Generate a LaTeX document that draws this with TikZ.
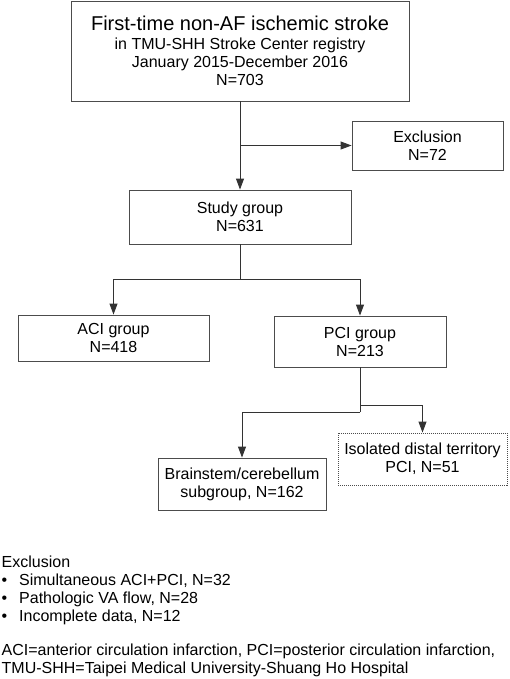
\documentclass[tikz,border=0pt]{standalone}
\usepackage{fontspec}
\setmainfont{Liberation Sans}
\usetikzlibrary{arrows.meta}
\tikzset{
  box/.style={draw=black!70, line width=0.9pt, align=center, inner sep=0pt,
    font=\fontsize{16}{18}\selectfont},
  arr/.style={draw=black!80, line width=0.9pt, -{Triangle[length=11pt,width=8pt]}},
  ln/.style={draw=black!80, line width=0.9pt},
  note/.style={anchor=base west, inner sep=0pt, font=\fontsize{16}{18}\selectfont}
}
\begin{document}
\begin{tikzpicture}[x=1pt,y=-1pt]
\useasboundingbox (0,0) rectangle (510,679);
\node[box, minimum width=338pt, minimum height=100pt] (reg) at (240,51)
  {{\fontsize{20}{22}\selectfont First-time non-AF ischemic stroke}\\[1pt]
   in TMU-SHH Stroke Center registry\\
   January 2015-December 2016\\
   N=703};
\node[box, minimum width=151pt, minimum height=49pt] (excl) at (427.5,145.5) {Exclusion\\N=72};
\node[box, minimum width=222pt, minimum height=54pt] (study) at (240,217) {Study group\\N=631};
\node[box, minimum width=191pt, minimum height=46pt] (aci) at (113.5,338) {ACI group\\N=418};
\node[box, minimum width=172pt, minimum height=51pt] (pci) at (360,341.5) {PCI group\\N=213};
\node[box, minimum width=168pt, minimum height=52pt] (brain) at (242,484) {Brainstem/cerebellum\\subgroup, N=162};
\node[box, dash pattern=on 1pt off 1pt, minimum width=169pt, minimum height=52pt] (distal) at (422.5,459)
  {Isolated distal territory\\PCI, N=51};
\coordinate (split0) at (240,145.5);
\coordinate (split1) at (240,279);
\coordinate (split2) at (360,405);
\coordinate (split3) at (360,412);
\draw[arr] (reg.south) -- (study.north);
\draw[arr] (split0) -- (excl.west);
\draw[ln] (study.south) -- (split1);
\draw[arr] (split1) -| (aci.north);
\draw[arr] (split1) -| (pci.north);
\draw[ln] (pci.south) -- (split3);
\draw[arr] (split2) -| (distal.north);
\draw[arr] (split3) -| (brain.north);
% exclusion list and abbreviations
\node[note] (exhead) at (1.5,567.5) {Exclusion};
\node[note] (ex1) at (1.5,585.5) {\makebox[17.5pt][l]{\textbullet}Simultaneous ACI+PCI, N=32};
\node[note] (ex2) at (1.5,603) {\makebox[17.5pt][l]{\textbullet}Pathologic VA flow, N=28};
\node[note] (ex3) at (1.5,621) {\makebox[17.5pt][l]{\textbullet}Incomplete data, N=12};
\node[note] (abbr1) at (1.5,655.5) {ACI=anterior circulation infarction, PCI=posterior circulation infarction,};
\node[note] (abbr2) at (1.5,673) {TMU-SHH=Taipei Medical University-Shuang Ho Hospital};
\end{tikzpicture}
\end{document}
